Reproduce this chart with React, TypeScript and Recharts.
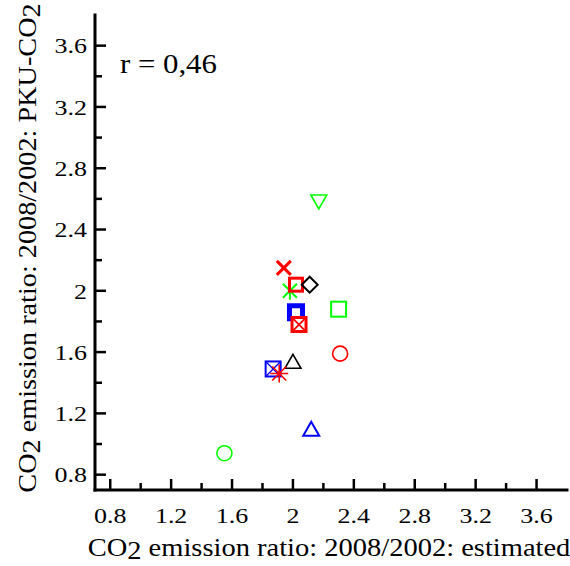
import { ScatterChart, Scatter, XAxis, YAxis } from 'recharts';

// estimated ratio (x) vs PKU-CO2 ratio (y), one entry per site
const estimated = [2.17, 1.94, 1.98, 2.02, 2.11, 2.02, 2.04, 2.30, 2.31, 2.0, 1.87, 1.91, 2.12, 1.55];
const pkuCo2 = [2.58, 2.15, 2.0, 2.04, 2.04, 1.86, 1.78, 1.88, 1.59, 1.54, 1.49, 1.46, 1.10, 0.94];

const tickValues = [0.8, 1, 1.2, 1.4, 1.6, 1.8, 2, 2.2, 2.4, 2.6, 2.8, 3, 3.2, 3.4, 3.6];
const majorLabels: Record<string, string> = {
  '0.8': '0.8', '1.2': '1.2', '1.6': '1.6', '2': '2', '2.4': '2.4', '2.8': '2.8', '3.2': '3.2', '3.6': '3.6',
};

// marker style per point, same order as the arrays above
const markers = [
  { shape: 'triDown', color: '#00ff00', w: 1.6 },
  { shape: 'cross', color: '#ff0000', w: 3 },
  { shape: 'star3', color: '#00ff00', w: 2 },
  { shape: 'square', color: '#ff0000', w: 3, s: 13 },
  { shape: 'diamond', color: '#000000', w: 2 },
  { shape: 'square', color: '#0000ff', w: 5, s: 13 },
  { shape: 'squareX', color: '#ff0000', w: 3, s: 14 },
  { shape: 'square', color: '#00ff00', w: 2, s: 15 },
  { shape: 'circle', color: '#ff0000', w: 1.6 },
  { shape: 'triUp', color: '#000000', w: 1.6 },
  { shape: 'squareX', color: '#0000ff', w: 2, s: 15 },
  { shape: 'star4', color: '#ff0000', w: 1.6 },
  { shape: 'triUp', color: '#0000ff', w: 2 },
  { shape: 'circle', color: '#00ff00', w: 1.6 },
];

const data = estimated.map((x, i) => ({ x, y: pkuCo2[i], ...markers[i] }));

const FONT = "'Liberation Serif', 'Times New Roman', serif";
const MAJOR = 11;
const MINOR = 7;
const STRETCH = 1.18; // the original lettering is a bit wider than Times

const label = (v: number) => majorLabels[String(v)];

const Marker = (props: any) => {
  const { cx, cy, payload } = props;
  const { shape, color, w } = payload;
  const s = payload.s || 15;
  const common = { stroke: color, strokeWidth: w, fill: 'none' };
  switch (shape) {
    case 'square':
      return <rect x={cx - s / 2} y={cy - s / 2} width={s} height={s} {...common} />;
    case 'squareX': {
      const h = s / 2;
      return (
        <g {...common}>
          <rect x={cx - h} y={cy - h} width={s} height={s} fill="#fff" />
          <path d={`M${cx - h},${cy - h}L${cx + h},${cy + h}M${cx - h},${cy + h}L${cx + h},${cy - h}`} strokeWidth={w * 0.6} />
        </g>
      );
    }
    case 'circle':
      return <circle cx={cx} cy={cy} r={7.5} {...common} />;
    case 'triUp':
      return <path d={`M${cx},${cy - 7}L${cx + 8},${cy + 7}L${cx - 8},${cy + 7}Z`} {...common} />;
    case 'triDown':
      return <path d={`M${cx},${cy + 7}L${cx + 8},${cy - 7}L${cx - 8},${cy - 7}Z`} {...common} />;
    case 'diamond':
      return <path d={`M${cx},${cy - 8}L${cx + 8},${cy}L${cx},${cy + 8}L${cx - 8},${cy}Z`} {...common} />;
    case 'cross':
      return <path d={`M${cx - 7},${cy - 7}L${cx + 7},${cy + 7}M${cx - 7},${cy + 7}L${cx + 7},${cy - 7}`} {...common} />;
    case 'star3':
      return <path d={`M${cx - 7},${cy - 7}L${cx + 7},${cy + 7}M${cx - 7},${cy + 7}L${cx + 7},${cy - 7}M${cx},${cy - 9}L${cx},${cy + 9}`} {...common} />;
    case 'star4':
      return <path d={`M${cx - 7},${cy - 7}L${cx + 7},${cy + 7}M${cx - 7},${cy + 7}L${cx + 7},${cy - 7}M${cx},${cy - 9}L${cx},${cy + 9}M${cx - 9},${cy}L${cx + 9},${cy}`} {...common} />;
    default:
      return null;
  }
};

const BottomTick = ({ x, y, payload }: any) => {
  const txt = label(payload.value);
  return (
    <g>
      <line x1={x} y1={y} x2={x} y2={y - (txt ? MAJOR : MINOR)} stroke="#000" strokeWidth={2.5} />
      {txt && (
        <text transform={`translate(${x},${y + 33}) scale(${STRETCH},1)`} textAnchor="middle" fontSize={22}
          fontFamily={FONT} fill="#000">{txt}</text>
      )}
    </g>
  );
};

const TopTick = ({ x, y, payload }: any) => (
  <line x1={x} y1={y} x2={x} y2={y + (label(payload.value) ? MAJOR : MINOR)} stroke="#000" strokeWidth={2.5} />
);

const LeftTick = ({ x, y, payload }: any) => {
  const txt = label(payload.value);
  return (
    <g>
      <line x1={x} y1={y} x2={x + (txt ? MAJOR : MINOR)} y2={y} stroke="#000" strokeWidth={2.5} />
      {txt && (
        <text transform={`translate(${x - 8},${y}) scale(${STRETCH},1)`} dy="0.35em" textAnchor="end" fontSize={22}
          fontFamily={FONT} fill="#000">{txt}</text>
      )}
    </g>
  );
};

const RightTick = ({ x, y, payload }: any) => (
  <line x1={x} y1={y} x2={x - (label(payload.value) ? MAJOR : MINOR)} y2={y} stroke="#000" strokeWidth={2.5} />
);

const frame = { stroke: '#000', strokeWidth: 3, strokeLinecap: 'square' as const };

export default function App() {
  return (
    <div style={{ position: 'absolute', left: 0, top: 0, width: 570, height: 566, background: '#fff' }}>
      <ScatterChart width={570} height={566} margin={{ top: 15, right: 3, bottom: 0, left: 0 }}>
        <XAxis xAxisId="b" type="number" dataKey="x" domain={[0.7, 3.8]} ticks={tickValues} allowDataOverflow
          height={76} tickSize={0} tickMargin={0} axisLine={frame} tick={<BottomTick />} interval={0} />
        <XAxis xAxisId="t" orientation="top" type="number" dataKey="x" domain={[0.7, 3.8]} ticks={tickValues} allowDataOverflow
          height={0} tickSize={0} tickMargin={0} axisLine={frame} tick={<TopTick />} interval={0} />
        <YAxis yAxisId="l" type="number" dataKey="y" domain={[0.7, 3.8]} ticks={tickValues} allowDataOverflow
          width={95} tickSize={0} tickMargin={0} axisLine={frame} tick={<LeftTick />} interval={0} />
        <YAxis yAxisId="r" orientation="right" type="number" dataKey="y" domain={[0.7, 3.8]} ticks={tickValues} allowDataOverflow
          width={0} tickSize={0} tickMargin={0} axisLine={frame} tick={<RightTick />} interval={0} />
        <Scatter data={data} xAxisId="b" yAxisId="l" shape={<Marker />} isAnimationActive={false} />
      </ScatterChart>
      <svg width={570} height={566} style={{ position: 'absolute', left: 0, top: 0, pointerEvents: 'none' }}
        fontFamily={FONT} fill="#000">
        <text transform="translate(120,73) scale(1.1,1)" fontSize={28}>r = 0,46</text>
        <text transform="translate(329,556) scale(1.14,1)" fontSize={25} textAnchor="middle">
          CO<tspan dy={3}>2</tspan><tspan dy={-3}> emission ratio: 2008/2002: estimated</tspan>
        </text>
        <text transform="translate(36,248) rotate(-90) scale(1.13,1)" fontSize={25} textAnchor="middle">
          CO<tspan dy={4}>2</tspan><tspan dy={-4}> emission ratio: 2008/2002: PKU-CO</tspan><tspan dy={4}>2</tspan>
        </text>
      </svg>
    </div>
  );
}
